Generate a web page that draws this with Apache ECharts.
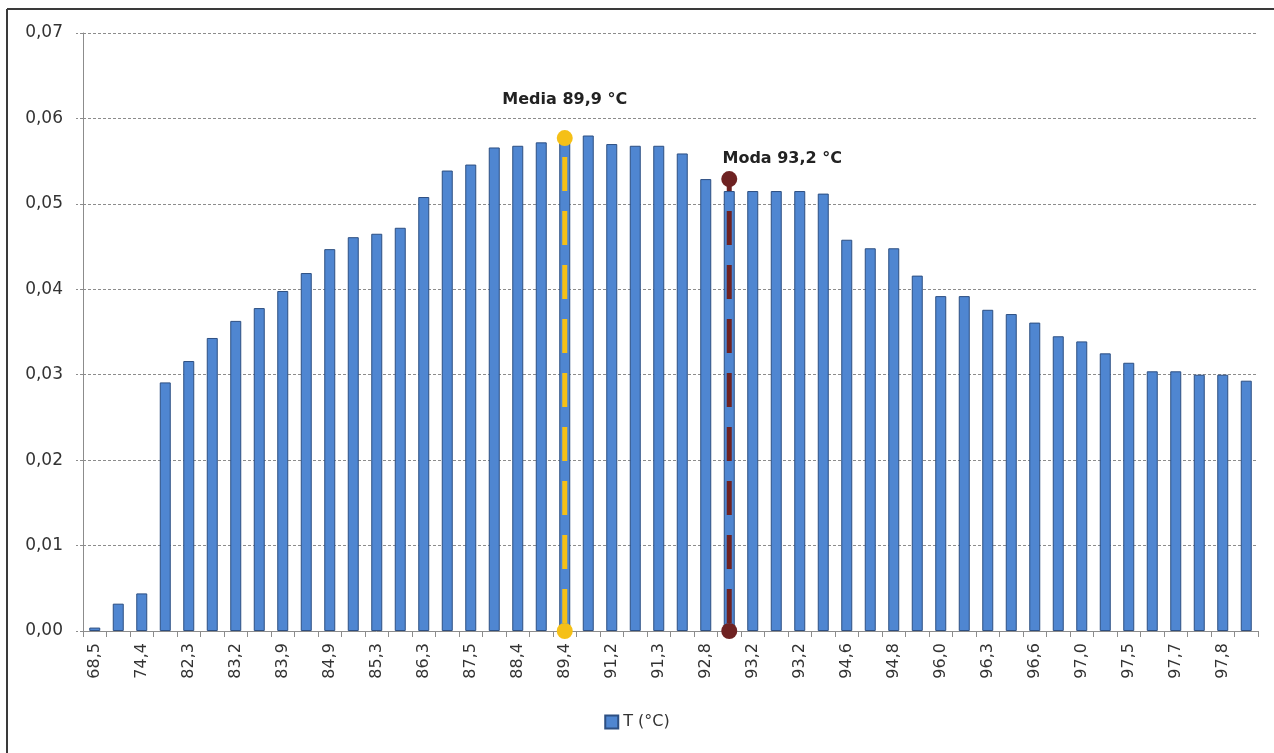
<!DOCTYPE html>
<html>
<head>
<meta charset="utf-8">
<script src="https://cdn.jsdelivr.net/npm/echarts@6/dist/echarts.min.js"></script>
<style>
html,body{margin:0;padding:0;background:#fff;}
#chart{width:1274px;height:753px;}
</style>
</head>
<body>
<div id="chart"></div>
<script>
// Category labels (°C); only every other one is shown on the axis
const categories = [
  '68,5','72,0','74,4','80,1','82,3','82,8','83,2','83,6','83,9','84,4',
  '84,9','85,1','85,3','85,8','86,3','87,0','87,5','88,0','88,4','88,9',
  '89,4','90,3','91,2','91,2','91,3','92,1','92,8','93,2','93,2','93,2',
  '93,2','93,9','94,6','94,8','94,8','95,4','96,0','96,1','96,3','96,5',
  '96,6','96,8','97,0','97,2','97,5','97,6','97,7','97,8','97,8','97,9'
];
// Relative frequency
const values = [
  0.0004,0.0032,0.0044,0.0291,0.0316,0.0343,0.0363,0.0378,0.0398,0.0419,
  0.0447,0.0461,0.0465,0.0472,0.0508,0.0539,0.0546,0.0566,0.0568,0.0572,
  0.0574,0.0580,0.0570,0.0568,0.0568,0.0559,0.0529,0.0515,0.0515,0.0515,
  0.0515,0.0512,0.0458,0.0448,0.0448,0.0416,0.0392,0.0392,0.0376,0.0371,
  0.0361,0.0345,0.0339,0.0325,0.0314,0.0304,0.0304,0.0300,0.0300,0.0293
];
const yTicks = [0, 0.07, 0.01];
const seriesName = 'T (°C)';
const mediaIndex = 20, mediaTop = 0.0577, mediaLabel = 'Media 89,9 °C';
const modaIndex = 27, modaTop = 0.0529, modaLabel = 'Moda 93,2 °C';

const FONT = 'DejaVu Sans';
const chart = echarts.init(document.getElementById('chart'), null, {renderer:'canvas'});
chart.setOption({
  animation: false,
  backgroundColor: '#ffffff',
  textStyle: {fontFamily: FONT},
  grid: {left: 83, right: 16, top: 33, bottom: 122, containLabel: false},
  legend: {
    data: [seriesName],
    bottom: 18,
    left: 'center',
    itemWidth: 13, itemHeight: 13, itemGap: 4,
    icon: 'rect',
    textStyle: {fontFamily: FONT, fontSize: 16, color: '#333'}
  },
  xAxis: {
    type: 'category',
    data: categories,
    boundaryGap: true,
    axisLine: {show: true, lineStyle: {color: '#8c8c8c', width: 1}},
    axisTick: {show: true, interval: 0, length: 6, lineStyle: {color: '#8c8c8c'}},
    axisLabel: {interval: 1, rotate: 90, margin: 12, fontFamily: FONT, fontSize: 16, color: '#333'},
    splitLine: {show: false}
  },
  yAxis: {
    type: 'value',
    min: yTicks[0], max: yTicks[1], interval: yTicks[2],
    axisLine: {show: true, lineStyle: {color: '#8c8c8c', width: 1}},
    axisTick: {show: true, length: 7, lineStyle: {color: '#8c8c8c', type: [3, 2]}},
    axisLabel: {
      margin: 20, fontFamily: FONT, fontSize: 17, color: '#333',
      formatter: v => v.toFixed(2).replace('.', ',')
    },
    splitLine: {show: true, lineStyle: {color: '#8c8c8c', width: 1, type: [3, 2]}}
  },
  series: [
    {
      name: seriesName,
      type: 'bar',
      data: values,
      barWidth: 11,
      itemStyle: {color: '#4f86d1', borderColor: '#2d4f82', borderWidth: 1}
    },
    {
      name: 'Media',
      type: 'line',
      showSymbol: true,
      showAllSymbol: true,
      data: [
        {value: [mediaIndex, 0]},
        {value: [mediaIndex, mediaTop],
         label: {show: true, position: 'top', distance: 22, formatter: mediaLabel,
                 fontFamily: FONT, fontSize: 16, fontWeight: 'bold', color: '#222'}}
      ],
      symbol: 'circle', symbolSize: 16,
      lineStyle: {color: '#f5c017', width: 5, type: [34, 20], dashOffset: -8},
      itemStyle: {color: '#f5c017'},
      z: 5
    },
    {
      name: 'Moda',
      type: 'line',
      showSymbol: true,
      showAllSymbol: true,
      data: [
        {value: [modaIndex, 0]},
        {value: [modaIndex, modaTop],
         label: {show: true, position: 'top', distance: 4, offset: [53, 0], formatter: modaLabel,
                 fontFamily: FONT, fontSize: 16, fontWeight: 'bold', color: '#222'}}
      ],
      symbol: 'circle', symbolSize: 16,
      lineStyle: {color: '#6e2222', width: 5, type: [34, 20], dashOffset: -8},
      itemStyle: {color: '#6e2222'},
      z: 5
    }
  ],
  graphic: [
    {type: 'line', shape: {x1: 7, y1: 9, x2: 7, y2: 753}, style: {stroke: '#3a3a3a', lineWidth: 2}},
    {type: 'line', shape: {x1: 7, y1: 9, x2: 1274, y2: 9}, style: {stroke: '#3a3a3a', lineWidth: 2}}
  ]
});
</script>
</body>
</html>
